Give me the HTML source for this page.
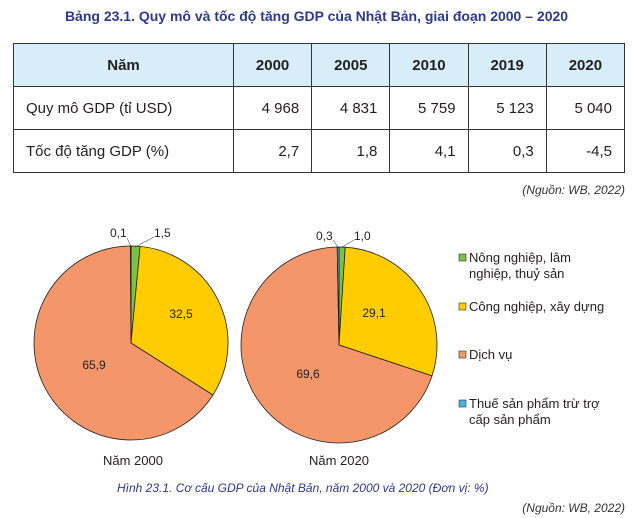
<!DOCTYPE html>
<html><head><meta charset="utf-8"><style>
body{margin:0;width:633px;height:518px;background:#fff;font-family:"Liberation Sans",sans-serif;position:relative;overflow:hidden}
.t{position:absolute;white-space:nowrap}
table{position:absolute;left:13px;top:43px;border-collapse:collapse;width:612px}
td{border:1px solid #333;height:42px;font-size:15px;color:#231f20;padding:0 12px;text-align:right}
tr.h td{background:#d7eef8;font-weight:bold;text-align:center}
td.f{text-align:left;width:195px}
</style></head><body>
<div class="t" style="left:0;width:633px;text-align:center;top:8px;font-size:14px;font-weight:bold;color:#2b3990">Bảng 23.1. Quy mô và tốc độ tăng GDP của Nhật Bản, giai đoạn 2000 – 2020</div>
<table>
<tr class="h"><td class="f" style="text-align:center">Năm</td><td>2000</td><td>2005</td><td>2010</td><td>2019</td><td>2020</td></tr>
<tr><td class="f">Quy mô GDP (tỉ USD)</td><td>4 968</td><td>4 831</td><td>5 759</td><td>5 123</td><td>5 040</td></tr>
<tr><td class="f">Tốc độ tăng GDP (%)</td><td>2,7</td><td>1,8</td><td>4,1</td><td>0,3</td><td>-4,5</td></tr>
</table>
<div class="t" style="right:8px;top:183px;font-size:12px;font-style:italic;color:#333">(Nguồn: WB, 2022)</div>
<svg width="633" height="518" style="position:absolute;left:0;top:0" font-family="Liberation Sans, sans-serif" font-size="12" fill="#231f20">
<g stroke="#222" stroke-width="0.8">
<path d="M131,343 L131,246 A97,97 0 0 1 140.1,246.4Z" fill="#7dc142"/>
<path d="M131,343 L140.1,246.4 A97,97 0 0 1 212.9,395Z" fill="#ffcc00"/>
<path d="M131,343 L212.9,395 A97,97 0 1 1 130.4,246Z" fill="#f4966a"/>
<path d="M131,343 L130.4,246 A97,97 0 0 1 131,246Z" fill="#3fb5e0"/>
<path d="M339,345 L339,247 A98,98 0 0 1 345.2,247.2Z" fill="#7dc142"/>
<path d="M339,345 L345.2,247.2 A98,98 0 0 1 432,375.9Z" fill="#ffcc00"/>
<path d="M339,345 L432,375.9 A98,98 0 1 1 337.2,247Z" fill="#f4966a"/>
<path d="M339,345 L337.2,247 A98,98 0 0 1 339,247Z" fill="#3fb5e0"/>
<line x1="127" y1="238" x2="131" y2="246" stroke-width="0.5"/>
<line x1="154" y1="237" x2="135" y2="247" stroke-width="0.5"/>
<line x1="333" y1="240" x2="338" y2="247" stroke-width="0.5"/>
<line x1="354" y1="240" x2="342" y2="247" stroke-width="0.5"/>
</g>
<text x="110" y="237">0,1</text><text x="154" y="237">1,5</text>
<text x="316" y="240">0,3</text><text x="354" y="240">1,0</text>
<text x="181" y="318" text-anchor="middle">32,5</text><text x="94" y="369" text-anchor="middle">65,9</text>
<text x="374" y="317" text-anchor="middle">29,1</text><text x="308" y="378" text-anchor="middle">69,6</text>
<text x="133" y="465" text-anchor="middle" font-size="13">Năm 2000</text>
<text x="339" y="465" text-anchor="middle" font-size="13">Năm 2020</text>
<g stroke="#333" stroke-width="0.6">
<rect x="459" y="254" width="7" height="7" fill="#7dc142"/>
<rect x="459" y="303" width="7" height="7" fill="#ffcc00"/>
<rect x="459" y="351" width="7" height="7" fill="#f4966a"/>
<rect x="459" y="400" width="7" height="7" fill="#3fb5e0"/>
</g>
<g font-size="13">
<text x="469" y="262">Nông nghiệp, lâm</text><text x="469" y="278">nghiệp, thuỷ sản</text>
<text x="469" y="311">Công nghiệp, xây dựng</text>
<text x="469" y="359">Dịch vụ</text>
<text x="469" y="408">Thuế sản phẩm trừ trợ</text><text x="469" y="424">cấp sản phẩm</text>
</g>
</svg>
<div class="t" style="left:117px;top:481px;font-size:12px;font-style:italic;color:#2b3990">Hình 23.1. Cơ cấu GDP của Nhật Bản, năm 2000 và 2020 (Đơn vị: %)</div>
<div class="t" style="right:8px;top:501px;font-size:12px;font-style:italic;color:#333">(Nguồn: WB, 2022)</div>
</body></html>
